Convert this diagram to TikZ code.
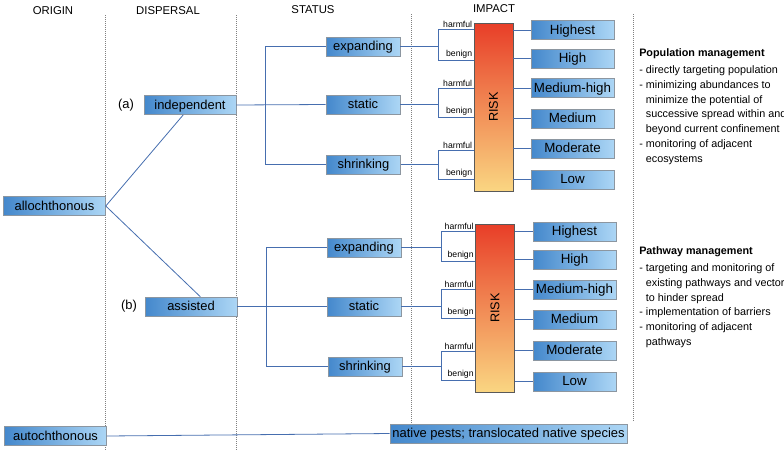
\documentclass[tikz,border=0pt]{standalone}
\usepackage{fontspec}
\setmainfont{Liberation Sans}
\definecolor{boxleft}{RGB}{68,136,204}
\definecolor{boxright}{RGB}{172,214,245}
\definecolor{boxline}{RGB}{140,150,160}
\definecolor{linkblue}{RGB}{70,110,175}
\definecolor{risktop}{RGB}{232,62,40}
\definecolor{riskbot}{RGB}{250,214,130}

\begin{document}
\begin{tikzpicture}[x=0.75pt,y=0.75pt,yscale=-1,xscale=1,
    box/.style={draw=boxline, left color=boxleft, right color=boxright, minimum height=14.25pt, inner sep=0pt, text height=8.2pt, text depth=1.8pt, font=\fontsize{9.7}{11}\selectfont},
    origbox/.style={box, minimum width=76.5pt},
    dispbox/.style={box, minimum width=69pt},
    statbox/.style={box, minimum width=55.5pt},
    lvlbox/.style={box, minimum width=62.25pt, font=\fontsize{10}{11}\selectfont},
    riskbar/.style={draw=gray!70!black, top color=risktop, bottom color=riskbot, minimum width=29.25pt, minimum height=126pt, inner sep=0pt, font=\fontsize{9.5}{11}\selectfont},
    link/.style={draw=linkblue, line width=0.6pt},
    sep/.style={draw=gray, densely dotted, line width=0.5pt},
    head/.style={font=\fontsize{8.5}{10}\selectfont},
    tag/.style={font=\fontsize{6.5}{7}\selectfont, inner sep=1pt},
    mgmt/.style={anchor=north west, align=left, inner sep=0pt, font=\fontsize{8.1}{11.1}\selectfont}]
    \useasboundingbox (0,0) rectangle (784,450);

    % column separators and headings
    \draw[sep] (105,15) -- (105,450);
    \draw[sep] (236,15) -- (236,450);
    \draw[sep] (411,14) -- (411,424);
    \draw[sep] (633,14) -- (633,421);
    \node[head] (hOrigin) at (53,11) {ORIGIN};
    \node[head] (hDispersal) at (168,11) {DISPERSAL};
    \node[head] (hStatus) at (313,10) {STATUS};
    \node[head] (hImpact) at (494,9) {IMPACT};

    % origin and dispersal
    \node[origbox] (allo) at (54.5,206) {allochthonous};
    \node[origbox] (auto) at (55.5,436) {autochthonous};
    \node[dispbox] (ind) at (190,105) {independent};
    \node[dispbox] (ass) at (191,306.5) {assisted};
    \node[font=\fontsize{9.7}{11}\selectfont] (tagA) at (126,105) {(a)};
    \node[font=\fontsize{9.7}{11}\selectfont] (tagB) at (129,306.5) {(b)};
    \node[box, minimum width=177.75pt] (native) at (508.5,433.5) {native pests; translocated native species};
    \draw[link] (allo.east) -- ([xshift=-5pt]ind.south);
    \draw[link] (allo.east) -- ([xshift=7pt]ass.north);
    \draw[link] (auto.east) -- (native.west);

    % status, independent
    \node[statbox] (exp1) at (363,46.5) {expanding};
    \node[statbox] (sta1) at (363,104.5) {static};
    \node[statbox] (shr1) at (363.5,164.5) {shrinking};
    \draw[link] (ind.east) -- (sta1.west);
    \draw[link] (exp1.west) -- ++(-60,0) |- (shr1.west);

    % status, assisted
    \node[statbox] (exp2) at (364,247.5) {expanding};
    \node[statbox] (sta2) at (364,306.5) {static};
    \node[statbox] (shr2) at (365,366.5) {shrinking};
    \draw[link] (ass.east) -- (sta2.west);
    \draw[link] (exp2.west) -- ++(-60,0) |- (shr2.west);

    % risk, independent
    \node[riskbar] (risk1) at (493.5,107) {\rotatebox{90}{RISK}};
    \node[lvlbox] (hst1) at (572.5,30) {Highest};
    \node[lvlbox] (hi1) at (572.5,58.5) {High};
    \node[lvlbox] (mh1) at (572.5,88) {Medium-high};
    \node[lvlbox] (med1) at (572.5,118.5) {Medium};
    \node[lvlbox] (mod1) at (572.5,148.5) {Moderate};
    \node[lvlbox] (low1) at (572.5,179.5) {Low};
    \coordinate (harmE1) at (438,29);  \coordinate (benE1) at (438,60);
    \coordinate (harmS1) at (438,88);  \coordinate (benS1) at (438,117);
    \coordinate (harmR1) at (438,150); \coordinate (benR1) at (438,179);
    \draw[link] (exp1.east) -- (exp1.east -| harmE1);
    \draw[link] (sta1.east) -- (sta1.east -| harmS1);
    \draw[link] (shr1.east) -- (shr1.east -| harmR1);
    \draw[link] (risk1.west |- harmE1) -- (harmE1) -- (benE1) -- (risk1.west |- benE1);
    \draw[link] (risk1.west |- harmS1) -- (harmS1) -- (benS1) -- (risk1.west |- benS1);
    \draw[link] (risk1.west |- harmR1) -- (harmR1) -- (benR1) -- (risk1.west |- benR1);
    \node[tag, above left] at (risk1.west |- harmE1) {harmful};
    \node[tag, above left] at (risk1.west |- benE1) {benign};
    \node[tag, above left] at (risk1.west |- harmS1) {harmful};
    \node[tag, above left] at (risk1.west |- benS1) {benign};
    \node[tag, above left] at (risk1.west |- harmR1) {harmful};
    \node[tag, above left] at (risk1.west |- benR1) {benign};
    \draw[link] (risk1.east |- hst1) -- (hst1.west);
    \draw[link] (risk1.east |- hi1) -- (hi1.west);
    \draw[link] (risk1.east |- mh1) -- (mh1.west);
    \draw[link] (risk1.east |- med1) -- (med1.west);
    \draw[link] (risk1.east |- mod1) -- (mod1.west);
    \draw[link] (risk1.east |- low1) -- (low1.west);

    % risk, assisted
    \node[riskbar] (risk2) at (495,308) {\rotatebox{90}{RISK}};
    \node[lvlbox] (hst2) at (574.5,231.5) {Highest};
    \node[lvlbox] (hi2) at (574.5,259.5) {High};
    \node[lvlbox] (mh2) at (574.5,289.5) {Medium-high};
    \node[lvlbox] (med2) at (574.5,319.5) {Medium};
    \node[lvlbox] (mod2) at (574.5,350.5) {Moderate};
    \node[lvlbox] (low2) at (574.5,381.5) {Low};
    \coordinate (harmE2) at (441,231); \coordinate (benE2) at (441,261);
    \coordinate (harmS2) at (441,289); \coordinate (benS2) at (441,318);
    \coordinate (harmR2) at (441,351); \coordinate (benR2) at (441,380);
    \draw[link] (exp2.east) -- (exp2.east -| harmE2);
    \draw[link] (sta2.east) -- (sta2.east -| harmS2);
    \draw[link] (shr2.east) -- (shr2.east -| harmR2);
    \draw[link] (risk2.west |- harmE2) -- (harmE2) -- (benE2) -- (risk2.west |- benE2);
    \draw[link] (risk2.west |- harmS2) -- (harmS2) -- (benS2) -- (risk2.west |- benS2);
    \draw[link] (risk2.west |- harmR2) -- (harmR2) -- (benR2) -- (risk2.west |- benR2);
    \node[tag, above left] at (risk2.west |- harmE2) {harmful};
    \node[tag, above left] at (risk2.west |- benE2) {benign};
    \node[tag, above left] at (risk2.west |- harmS2) {harmful};
    \node[tag, above left] at (risk2.west |- benS2) {benign};
    \node[tag, above left] at (risk2.west |- harmR2) {harmful};
    \node[tag, above left] at (risk2.west |- benR2) {benign};
    \draw[link] (risk2.east |- hst2) -- (hst2.west);
    \draw[link] (risk2.east |- hi2) -- (hi2.west);
    \draw[link] (risk2.east |- mh2) -- (mh2.west);
    \draw[link] (risk2.east |- med2) -- (med2.west);
    \draw[link] (risk2.east |- mod2) -- (mod2.west);
    \draw[link] (risk2.east |- low2) -- (low2.west);

    % management notes
    \node[mgmt] (popMgmt) at (639,48) {\textbf{Population management}\\[2pt]
        -\ directly targeting population\\
        -\ minimizing abundances to\\
        \hphantom{-\ }minimize the potential of\\
        \hphantom{-\ }successive spread within and\\
        \hphantom{-\ }beyond current confinement\\
        -\ monitoring of adjacent\\
        \hphantom{-\ }ecosystems};
    \node[mgmt] (pathMgmt) at (639,246) {\textbf{Pathway management}\\[2pt]
        -\ targeting and monitoring of\\
        \hphantom{-\ }existing pathways and vectors\\
        \hphantom{-\ }to hinder spread\\
        -\ implementation of barriers\\
        -\ monitoring of adjacent\\
        \hphantom{-\ }pathways};
\end{tikzpicture}
\end{document}
